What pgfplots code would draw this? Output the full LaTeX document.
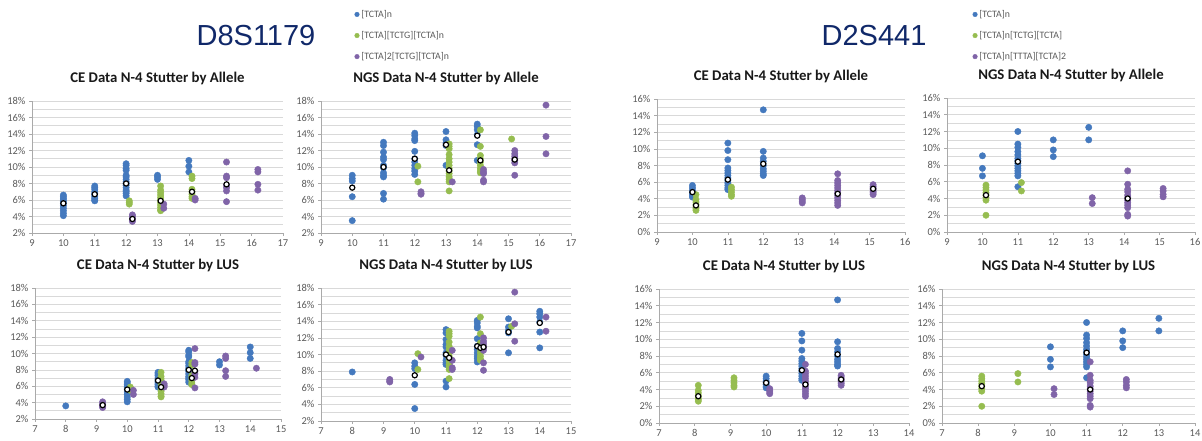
\documentclass[border=0pt]{standalone}
\usepackage{fontspec}
\setmainfont{Carlito}
\newfontfamily\headfont{Liberation Sans}
\usepackage{pgfplots}
\pgfplotsset{compat=1.18}
\definecolor{sblue}{RGB}{68,121,190}
\definecolor{sgreen}{RGB}{150,189,80}
\definecolor{spurple}{RGB}{128,100,168}
\definecolor{gridc}{RGB}{217,217,217}
\definecolor{axc}{RGB}{170,170,170}
\definecolor{tickc}{RGB}{90,90,90}
\definecolor{navy}{RGB}{16,40,105}
\pgfplotsset{
 stut/.style={
  scale only axis,
  axis x line*=bottom, axis y line*=left,
  axis line style={axc, line width=0.8pt},
  ymajorgrids, yminorgrids,
  major grid style={gridc, line width=0.7pt},
  minor grid style={gridc, line width=0.7pt},
  ytick distance=2, xtick distance=1, minor y tick num=1,
  tick align=outside, major tick length=3pt, minor tick length=0pt,
  tick style={axc, line width=0.7pt},
  ticklabel style={font=\fontsize{10.5}{11}\selectfont, text=tickc},
  /pgf/number format/assume math mode=true,
  yticklabel={\pgfmathprintnumber{\tick}\%},
  title style={font=\bfseries\fontsize{14.8}{15}\selectfont, text=black!90, at={(0.5,1)}, anchor=base, yshift=13pt},
  legend image code/.code={\draw[#1, mark size=2.3pt] plot coordinates {(0pt,0pt)};},
 },
 pb/.style={only marks, mark=*, mark size=3.2pt, color=sblue},
 pg/.style={only marks, mark=*, mark size=3.2pt, color=sgreen},
 pp/.style={only marks, mark=*, mark size=3.2pt, color=spurple},
 pm/.style={only marks, mark=*, mark size=2.6pt, mark options={draw=black, fill=white, line width=1.2pt}, forget plot},
 legst/.style={legend style={draw=none, fill=none, inner sep=0pt, anchor=north west, row sep=8.5pt,
   font=\fontsize{9.8}{10}\selectfont, text=tickc, cells={anchor=west}}},
}
\begin{document}
\begin{tikzpicture}
\path[use as bounding box] (0pt,0pt) rectangle (1202pt,-440pt);
\node[font=\headfont\fontsize{29}{29}\selectfont, text=navy] at (256pt,-36pt) {D8S1179};
\node[font=\headfont\fontsize{29}{29}\selectfont, text=navy] at (874pt,-36pt) {D2S441};

% P1 CE Allele D8S1179
\begin{axis}[stut, at={(32pt,-233pt)}, anchor=south west, width=251pt, height=132pt,
  xmin=9, xmax=17, ymin=2, ymax=18, title={CE Data N-4 Stutter by Allele}]
\addplot[pb] coordinates {(10,6.6)(10,6.4)(10,6.2)(10,6.0)(10,5.8)(10,5.6)(10,5.3)(10,5.0)(10,4.7)(10,4.4)(10,4.1)
(11,7.7)(11,7.5)(11,7.3)(11,7.0)(11,6.8)(11,6.6)(11,6.4)(11,6.2)(11,6.0)(11,5.9)
(12,10.4)(12,10.2)(12,9.8)(12,9.6)(12,9.0)(12,8.8)(12,8.5)(12,8.2)(12,8.0)(12,7.8)(12,7.5)(12,7.2)(12,7.0)(12,6.8)(12,6.5)
(13,9.0)(13,8.8)(13,8.5)(14,10.8)(14,10.1)(14,9.4)};
\addplot[pg] coordinates {(12.1,5.9)(12.1,5.7)(12.1,5.5)
(13.1,7.7)(13.1,7.2)(13.1,6.9)(13.1,6.6)(13.1,6.3)(13.1,6.0)(13.1,5.7)(13.1,5.4)(13.1,5.1)(13.1,4.8)(13.1,4.7)
(14.1,8.9)(14.1,8.6)(14.1,7.3)(14.1,7.0)(14.1,6.7)(14.1,6.4)(14.1,6.2)};
\addplot[pp] coordinates {(12.2,4.2)(12.2,4.0)(12.2,3.8)(12.2,3.6)(12.2,3.4)(13.2,5.5)(13.2,5.0)(14.2,6.2)(14.2,6.0)
(15.2,10.6)(15.2,8.9)(15.2,8.7)(15.2,7.8)(15.2,7.5)(15.2,7.1)(15.2,5.8)(16.2,9.7)(16.2,9.4)(16.2,7.9)(16.2,7.2)};
\addplot[pm] coordinates {(10,5.6)(11,6.7)(12,8.0)(12.2,3.7)(13.1,5.9)(14.1,7.0)(15.2,7.9)};
\end{axis}

% P2 NGS Allele D8S1179
\begin{axis}[stut, legst, at={(321pt,-233pt)}, anchor=south west, width=250pt, height=132pt,
  xmin=9, xmax=17, ymin=2, ymax=18, title={NGS Data N-4 Stutter by Allele},
  legend style={at={(0.134,1.705)}}]
\addplot[pb] coordinates {(10,9.0)(10,8.6)(10,8.3)(10,6.4)(10,3.5)
(11,13.0)(11,12.6)(11,11.8)(11,11.2)(11,10.9)(11,10.2)(11,9.9)(11,9.3)(11,9.0)(11,8.8)(11,6.8)(11,6.1)
(12,14.1)(12,13.8)(12,13.4)(12,13.2)(12,11.9)(12,11.0)(12,10.6)(12,10.2)(12,9.8)(12,9.5)(12,9.1)
(13,14.3)(13,13.3)(13,12.9)(13,12.6)(13,10.2)(14,15.2)(14,14.9)(14,14.5)(14,13.9)(14,12.7)(14,10.8)};
\addlegendentry{[TCTA]n}
\addplot[pg] coordinates {(12.1,10.1)(12.1,8.2)
(13.1,12.8)(13.1,12.5)(13.1,12.2)(13.1,11.5)(13.1,11.0)(13.1,10.6)(13.1,10.2)(13.1,9.8)(13.1,9.5)(13.1,9.2)(13.1,8.8)(13.1,8.5)(13.1,8.2)(13.1,7.1)
(14.1,14.5)(14.1,12.5)(14.1,11.4)(14.1,11.0)(14.1,10.6)(14.1,10.2)(14.1,9.8)(14.1,9.5)(14.1,9.3)(15.1,13.4)};
\addlegendentry{[TCTA][TCTG][TCTA]n}
\addplot[pp] coordinates {(12.2,7.0)(12.2,6.8)(12.2,6.7)(13.2,8.2)(14.2,9.7)(14.2,9.4)(14.2,9.2)(14.2,8.4)(14.2,8.2)
(15.2,12.0)(15.2,11.6)(15.2,11.3)(15.2,11.0)(15.2,10.8)(15.2,10.5)(15.2,9.0)(16.2,17.5)(16.2,13.7)(16.2,11.6)};
\addlegendentry{[TCTA]2[TCTG][TCTA]n}
\addplot[pm] coordinates {(10,7.5)(11,10.0)(12,11.0)(13,12.7)(13.1,9.6)(14,13.8)(14.1,10.8)(15.2,10.9)};
\end{axis}

% P3 CE Allele D2S441
\begin{axis}[stut, at={(657pt,-232pt)}, anchor=south west, width=248pt, height=133pt,
  xmin=9, xmax=16, ymin=0, ymax=16, title={CE Data N-4 Stutter by Allele}]
\addplot[pb] coordinates {(10,5.6)(10,5.3)(10,5.0)(10,4.8)(10,4.6)(10,4.4)(10,4.2)
(11,10.7)(11,9.8)(11,8.7)(11,7.7)(11,7.4)(11,7.1)(11,6.8)(11,6.5)(11,6.2)(11,5.9)(11,5.6)(11,5.3)(11,5.1)
(12,14.7)(12,9.7)(12,8.9)(12,8.5)(12,8.0)(12,7.6)(12,7.3)(12,7.0)(12,6.8)};
\addplot[pg] coordinates {(10.1,4.5)(10.1,3.9)(10.1,3.6)(10.1,3.3)(10.1,3.0)(10.1,2.8)(10.1,2.6)
(11.1,5.4)(11.1,5.1)(11.1,4.8)(11.1,4.5)(11.1,4.3)};
\addplot[pp] coordinates {(13.1,4.1)(13.1,3.9)(13.1,3.7)(13.1,3.5)
(14.1,7.0)(14.1,6.2)(14.1,5.9)(14.1,5.6)(14.1,5.3)(14.1,5.0)(14.1,4.7)(14.1,4.4)(14.1,4.1)(14.1,3.8)(14.1,3.5)(14.1,3.2)
(15.1,5.7)(15.1,5.5)(15.1,5.3)(15.1,5.1)(15.1,4.9)(15.1,4.7)(15.1,4.5)};
\addplot[pm] coordinates {(10,4.8)(10.1,3.2)(11,6.3)(12,8.2)(14.1,4.6)(15.1,5.2)};
\end{axis}

% P4 NGS Allele D2S441
\begin{axis}[stut, legst, at={(947pt,-232pt)}, anchor=south west, width=248pt, height=134pt,
  xmin=9, xmax=16, ymin=0, ymax=16, title={NGS Data N-4 Stutter by Allele},
  legend style={at={(0.103,1.672)}}]
\addplot[pb] coordinates {(10,9.1)(10,7.6)(10,6.7)
(11,12.0)(11,10.5)(11,10.1)(11,9.6)(11,9.2)(11,8.8)(11,8.5)(11,8.2)(11,7.9)(11,7.6)(11,7.3)(11,7.0)(11,6.7)(11,5.4)
(12,11.0)(12,9.8)(12,9.0)(13,12.5)(13,11.0)};
\addlegendentry{[TCTA]n}
\addplot[pg] coordinates {(10.1,5.6)(10.1,5.3)(10.1,5.0)(10.1,4.7)(10.1,4.4)(10.1,4.1)(10.1,3.8)(10.1,2.0)
(11.1,5.9)(11.1,4.9)};
\addlegendentry{[TCTA]n[TCTG][TCTA]}
\addplot[pp] coordinates {(13.1,4.1)(13.1,3.4)
(14.1,7.3)(14.1,5.7)(14.1,5.1)(14.1,4.8)(14.1,4.4)(14.1,4.1)(14.1,3.8)(14.1,3.5)(14.1,3.2)(14.1,2.9)(14.1,2.1)(14.1,1.9)
(15.1,5.2)(15.1,4.9)(15.1,4.5)(15.1,4.2)};
\addlegendentry{[TCTA]n[TTTA][TCTA]2}
\addplot[pm] coordinates {(10.1,4.4)(11,8.4)(14.1,4.0)};
\end{axis}

% P5 CE LUS D8S1179
\begin{axis}[stut, at={(35pt,-419pt)}, anchor=south west, width=246pt, height=131pt,
  xmin=7, xmax=15, ymin=2, ymax=18, title={CE Data N-4 Stutter by LUS}]
\addplot[pb] coordinates {(8,3.6)(10,6.6)(10,6.4)(10,6.2)(10,6.0)(10,5.8)(10,5.6)(10,5.3)(10,5.0)(10,4.7)(10,4.4)(10,4.1)
(11,7.7)(11,7.5)(11,7.3)(11,7.0)(11,6.8)(11,6.6)(11,6.4)(11,6.2)(11,6.0)(11,5.9)
(12,10.4)(12,10.2)(12,9.8)(12,9.6)(12,9.0)(12,8.8)(12,8.5)(12,8.2)(12,8.0)(12,7.8)(12,7.5)(12,7.2)(12,7.0)(12,6.8)(12,6.5)
(13,9.0)(13,8.6)(14,10.8)(14,10.1)(14,9.4)};
\addplot[pg] coordinates {(10.1,5.9)(10.1,5.7)(10.1,5.5)
(11.1,7.7)(11.1,7.2)(11.1,6.9)(11.1,6.6)(11.1,6.3)(11.1,6.0)(11.1,5.7)(11.1,5.4)(11.1,5.1)(11.1,4.8)(11.1,4.7)
(12.1,8.9)(12.1,8.6)(12.1,7.3)(12.1,7.0)(12.1,6.7)(12.1,6.4)(12.1,6.2)};
\addplot[pp] coordinates {(9.2,4.1)(9.2,3.9)(9.2,3.7)(9.2,3.5)(9.2,3.4)(10.2,5.5)(10.2,5.0)(11.2,6.3)(11.2,6.1)(11.2,5.9)
(12.2,10.6)(12.2,8.9)(12.2,8.7)(12.2,7.8)(12.2,7.5)(12.2,7.1)(12.2,5.8)(13.2,9.7)(13.2,9.4)(13.2,7.9)(13.2,7.2)(14.2,8.2)};
\addplot[pm] coordinates {(9.2,3.7)(10,5.6)(11,6.7)(11.1,5.9)(12,8.0)(12.1,7.0)(12.2,7.9)};
\end{axis}

% P6 NGS LUS D8S1179
\begin{axis}[stut, at={(321pt,-421pt)}, anchor=south west, width=250pt, height=133pt,
  xmin=7, xmax=15, ymin=2, ymax=18, title={NGS Data N-4 Stutter by LUS}]
\addplot[pb] coordinates {(8,7.9)(10,9.0)(10,8.6)(10,8.3)(10,6.4)(10,3.5)
(11,13.0)(11,12.6)(11,11.8)(11,11.2)(11,10.9)(11,10.2)(11,9.9)(11,9.3)(11,9.0)(11,8.8)(11,6.8)(11,6.1)
(12,14.1)(12,13.8)(12,13.4)(12,13.2)(12,11.9)(12,11.0)(12,10.6)(12,10.2)(12,9.8)(12,9.5)(12,9.1)
(13,14.3)(13,13.3)(13,12.9)(13,12.6)(13,10.2)(14,15.2)(14,14.9)(14,14.5)(14,13.9)(14,12.7)(14,10.8)};
\addplot[pg] coordinates {(10.1,10.1)(10.1,8.2)
(11.1,12.8)(11.1,12.5)(11.1,12.2)(11.1,11.5)(11.1,11.0)(11.1,10.6)(11.1,10.2)(11.1,9.8)(11.1,9.5)(11.1,9.2)(11.1,8.8)(11.1,8.5)(11.1,8.2)(11.1,7.1)
(12.1,14.5)(12.1,12.5)(12.1,11.4)(12.1,11.0)(12.1,10.6)(12.1,10.2)(12.1,9.8)(12.1,9.5)(12.1,9.3)(13.1,13.4)};
\addplot[pp] coordinates {(9.2,7.0)(9.2,6.8)(9.2,6.7)(10.2,9.7)(11.2,10.5)(11.2,9.3)(11.2,8.4)(11.2,8.2)
(12.2,12.0)(12.2,11.6)(12.2,11.3)(12.2,11.0)(12.2,10.8)(12.2,10.5)(12.2,9.0)(12.2,8.1)
(13.2,17.5)(13.2,13.7)(13.2,11.6)(14.2,14.5)(14.2,12.8)};
\addplot[pm] coordinates {(10,7.5)(11,10.0)(11.1,9.6)(12,11.0)(12.1,10.8)(12.2,10.9)(13,12.7)(14,13.8)};
\end{axis}

% P7 CE LUS D2S441
\begin{axis}[stut, at={(659pt,-423pt)}, anchor=south west, width=250pt, height=134pt,
  xmin=7, xmax=14, ymin=0, ymax=16, title={CE Data N-4 Stutter by LUS}]
\addplot[pb] coordinates {(10,5.6)(10,5.3)(10,5.0)(10,4.8)(10,4.6)(10,4.4)(10,4.2)
(11,10.7)(11,9.8)(11,8.7)(11,7.7)(11,7.4)(11,7.1)(11,6.8)(11,6.5)(11,6.2)(11,5.9)(11,5.6)(11,5.3)(11,5.1)
(12,14.7)(12,9.7)(12,8.9)(12,8.5)(12,8.0)(12,7.6)(12,7.3)(12,7.0)(12,6.8)};
\addplot[pg] coordinates {(8.1,4.5)(8.1,3.9)(8.1,3.6)(8.1,3.3)(8.1,3.0)(8.1,2.8)(8.1,2.6)
(9.1,5.4)(9.1,5.1)(9.1,4.8)(9.1,4.5)(9.1,4.3)};
\addplot[pp] coordinates {(10.1,4.1)(10.1,3.9)(10.1,3.7)(10.1,3.5)
(11.1,7.0)(11.1,6.2)(11.1,5.9)(11.1,5.6)(11.1,5.3)(11.1,5.0)(11.1,4.7)(11.1,4.4)(11.1,4.1)(11.1,3.8)(11.1,3.5)(11.1,3.2)
(12.1,5.7)(12.1,5.5)(12.1,5.3)(12.1,5.1)(12.1,4.9)(12.1,4.7)(12.1,4.5)};
\addplot[pm] coordinates {(8.1,3.2)(10,4.8)(11,6.3)(11.1,4.6)(12,8.2)(12.1,5.2)};
\end{axis}

% P8 NGS LUS D2S441
\begin{axis}[stut, at={(942pt,-423pt)}, anchor=south west, width=253pt, height=134pt,
  xmin=7, xmax=14, ymin=0, ymax=16, title={NGS Data N-4 Stutter by LUS}]
\addplot[pb] coordinates {(10,9.1)(10,7.6)(10,6.7)
(11,12.0)(11,10.5)(11,10.1)(11,9.6)(11,9.2)(11,8.8)(11,8.5)(11,8.2)(11,7.9)(11,7.6)(11,7.3)(11,7.0)(11,6.7)(11,5.4)
(12,11.0)(12,9.8)(12,9.0)(13,12.5)(13,11.0)};
\addplot[pg] coordinates {(8.1,5.6)(8.1,5.3)(8.1,5.0)(8.1,4.7)(8.1,4.4)(8.1,4.1)(8.1,3.8)(8.1,2.0)
(9.1,5.9)(9.1,4.9)};
\addplot[pp] coordinates {(10.1,4.1)(10.1,3.4)
(11.1,7.3)(11.1,5.7)(11.1,5.1)(11.1,4.8)(11.1,4.4)(11.1,4.1)(11.1,3.8)(11.1,3.5)(11.1,3.2)(11.1,2.9)(11.1,2.1)(11.1,1.9)
(12.1,5.2)(12.1,4.9)(12.1,4.5)(12.1,4.2)};
\addplot[pm] coordinates {(8.1,4.4)(11,8.4)(11.1,4.0)};
\end{axis}
\end{tikzpicture}
\end{document}
